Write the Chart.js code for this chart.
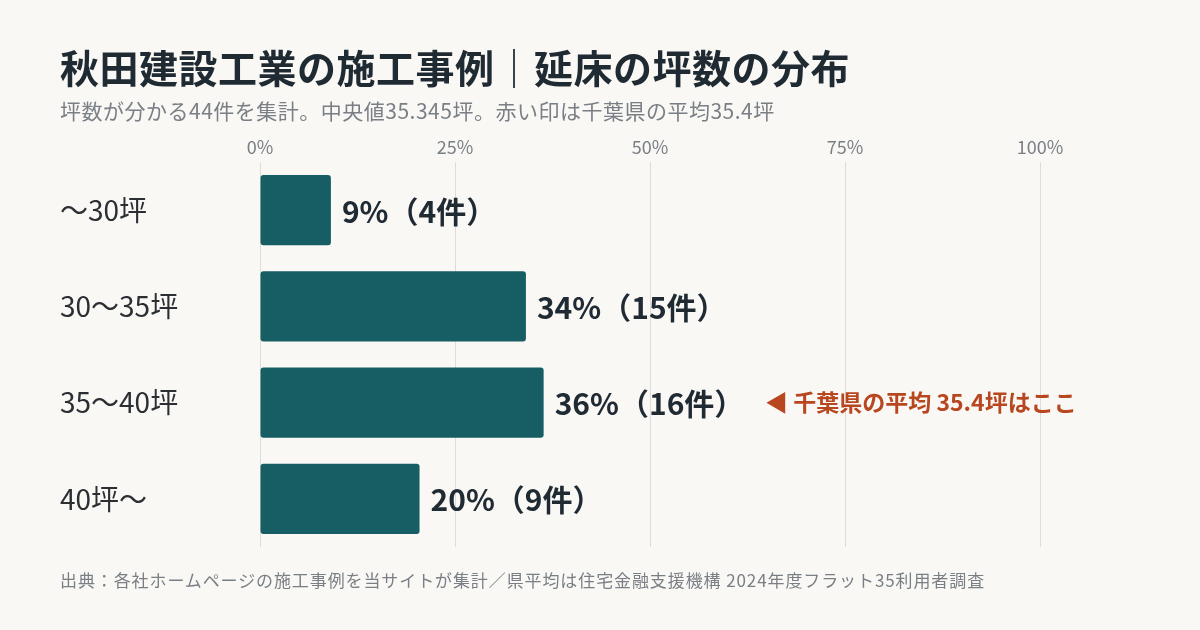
<!DOCTYPE html>
<html><head><meta charset="utf-8">
<script src="https://cdn.jsdelivr.net/npm/chart.js@4"></script>
<style>
body{margin:0;background:#f9f8f5;font-family:"Noto Sans CJK JP","Noto Sans",sans-serif;}
#wrap{position:relative;width:1200px;height:630px;}
canvas{position:absolute;left:0;top:0;}
.t{position:absolute;left:60px;top:38px;font-size:39px;font-weight:700;color:#1f2a33;letter-spacing:0.5px;}
.s{position:absolute;left:60px;top:95px;font-size:21px;color:#7a7f85;letter-spacing:0.5px;}
.f{position:absolute;left:60px;top:567px;font-size:17px;color:#7a7f85;letter-spacing:0.9px;}
</style></head><body>
<div id="wrap">
<canvas id="c" width="1200" height="630"></canvas>
<div class="t">秋田建設工業の施工事例｜延床の坪数の分布</div>
<div class="s">坪数が分かる44件を集計。中央値35.345坪。赤い印は千葉県の平均35.4坪</div>
<div class="f">出典：各社ホームページの施工事例を当サイトが集計／県平均は住宅金融支援機構 2024年度フラット35利用者調査</div>
</div>
<script>
const categories=["～30坪","30～35坪","35～40坪","40坪～"];
const counts=[4,15,16,9];
const total=44;
const percents=counts.map(c=>c/total*100);
const tickValues=[0,25,50,75,100];
const noteIndex=2;
const noteText="◀ 千葉県の平均 35.4坪はここ";
const F='"Noto Sans CJK JP","Noto Sans",sans-serif';
const plug={id:'lbl',afterDatasetsDraw(ch){
 const ctx=ch.ctx,meta=ch.getDatasetMeta(0);
 ctx.save();ctx.textBaseline='middle';
 meta.data.forEach((b,i)=>{
  ctx.fillStyle='#2b2f33';ctx.font='400 28px '+F;ctx.textAlign='left';
  ctx.fillText(categories[i],60,b.y);
  ctx.fillStyle='#1f2a33';ctx.font='700 30px '+F;
  const t=Math.round(percents[i])+'%（'+counts[i]+'件）';
  ctx.fillText(t,b.x+11,b.y+1);
  if(i===noteIndex){ctx.fillStyle='#b8461f';ctx.font='700 23px '+F;ctx.fillText(noteText,765,b.y);}
 });
 ctx.restore();}};
new Chart(document.getElementById('c'),{type:'bar',
 data:{labels:categories,datasets:[{data:percents,backgroundColor:'#165e63',borderRadius:3,borderSkipped:false,categoryPercentage:1,barPercentage:0.73}]},
 options:{indexAxis:'y',responsive:false,animation:false,
  layout:{padding:{left:260,right:160,top:132,bottom:83}},
  plugins:{legend:{display:false},tooltip:{enabled:false}},
  scales:{
   x:{position:'top',min:0,max:100,afterBuildTicks(s){s.ticks=tickValues.map(v=>({value:v}));},
      afterFit(s){s.height=30;},
      ticks:{callback:v=>v+'%',color:'#7a7f85',font:{size:18,family:F},padding:4},
      grid:{color:'#dddcd8',drawTicks:false},border:{display:false}},
   y:{display:false}
  }},plugins:[plug]});
</script>
</body></html>
